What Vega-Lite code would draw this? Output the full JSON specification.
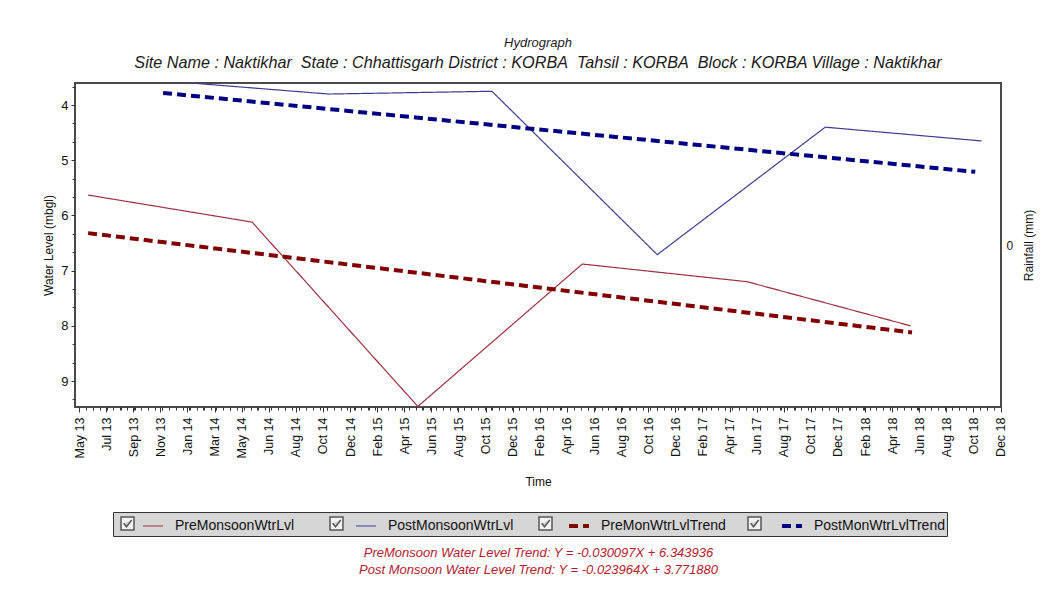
{
  "$schema": "https://vega.github.io/schema/vega-lite/v6.json",
  "width": 926,
  "height": 324,
  "autosize": {"type": "none"},
  "padding": {"left": 75, "top": 83, "right": 54, "bottom": 192},
  "background": "white",
  "config": {
    "font": "Liberation Sans",
    "view": {"stroke": "#4a4a4a", "strokeWidth": 2},
    "axis": {
      "labelFont": "Liberation Sans",
      "titleFont": "Liberation Sans",
      "labelColor": "#111111",
      "titleColor": "#111111",
      "tickColor": "#333333",
      "domain": false,
      "grid": false,
      "titleFontWeight": "normal",
      "labelFontSize": 12,
      "titleFontSize": 12
    }
  },
  "title": {
    "text": "Hydrograph",
    "subtitle": "Site Name : Naktikhar\u00a0 State : Chhattisgarh District : KORBA\u00a0 Tahsil : KORBA\u00a0 Block : KORBA Village : Naktikhar",
    "anchor": "middle",
    "font": "Liberation Sans",
    "subtitleFont": "Liberation Sans",
    "fontSize": 13,
    "fontStyle": "italic",
    "fontWeight": "normal",
    "color": "#1a1a1a",
    "subtitleFontSize": 16.2,
    "subtitleFontStyle": "italic",
    "subtitleColor": "#1a1a1a",
    "subtitlePadding": 5,
    "offset": 12
  },
  "resolve": {"scale": {"y": "independent"}, "axis": {"x": "independent"}},
  "layer": [
    {
      "data": {
        "values": [
          {"series": "PreMonsoonWtrLvl", "date": "2013/05/21", "level": 5.63},
          {"series": "PreMonsoonWtrLvl", "date": "2014/05/19", "level": 6.12},
          {"series": "PreMonsoonWtrLvl", "date": "2015/05/21", "level": 9.46},
          {"series": "PreMonsoonWtrLvl", "date": "2016/05/19", "level": 6.88},
          {"series": "PreMonsoonWtrLvl", "date": "2017/05/19", "level": 7.2},
          {"series": "PreMonsoonWtrLvl", "date": "2018/05/16", "level": 8.0},
          {"series": "PostMonsoonWtrLvl", "date": "2013/11/03", "level": 3.56},
          {"series": "PostMonsoonWtrLvl", "date": "2014/11/05", "level": 3.8},
          {"series": "PostMonsoonWtrLvl", "date": "2015/11/01", "level": 3.75},
          {"series": "PostMonsoonWtrLvl", "date": "2016/11/01", "level": 6.71},
          {"series": "PostMonsoonWtrLvl", "date": "2017/11/08", "level": 4.4},
          {"series": "PostMonsoonWtrLvl", "date": "2018/10/20", "level": 4.65},
          {"series": "PreMonWtrLvlTrend", "date": "2013/05/21", "level": 6.32},
          {"series": "PreMonWtrLvlTrend", "date": "2018/05/19", "level": 8.12},
          {"series": "PostMonWtrLvlTrend", "date": "2013/11/03", "level": 3.78},
          {"series": "PostMonWtrLvlTrend", "date": "2018/10/06", "level": 5.21}
        ]
      },
      "mark": {"type": "line", "clip": true},
      "encoding": {
        "x": {
          "field": "date",
          "type": "temporal",
          "scale": {"domain": [{"year": 2013, "month": 4, "date": 22}, {"year": 2018, "month": 12, "date": 2}]},
          "axis": {
            "orient": "bottom",
            "values": [
              {"year": 2013, "month": 5, "date": 1}, {"year": 2013, "month": 6, "date": 30}, {"year": 2013, "month": 8, "date": 29},
              {"year": 2013, "month": 10, "date": 28}, {"year": 2013, "month": 12, "date": 27}, {"year": 2014, "month": 2, "date": 25},
              {"year": 2014, "month": 4, "date": 26}, {"year": 2014, "month": 6, "date": 25}, {"year": 2014, "month": 8, "date": 24},
              {"year": 2014, "month": 10, "date": 23}, {"year": 2014, "month": 12, "date": 22}, {"year": 2015, "month": 2, "date": 20},
              {"year": 2015, "month": 4, "date": 21}, {"year": 2015, "month": 6, "date": 20}, {"year": 2015, "month": 8, "date": 19},
              {"year": 2015, "month": 10, "date": 18}, {"year": 2015, "month": 12, "date": 17}, {"year": 2016, "month": 2, "date": 15},
              {"year": 2016, "month": 4, "date": 15}, {"year": 2016, "month": 6, "date": 14}, {"year": 2016, "month": 8, "date": 13},
              {"year": 2016, "month": 10, "date": 12}, {"year": 2016, "month": 12, "date": 11}, {"year": 2017, "month": 2, "date": 9},
              {"year": 2017, "month": 4, "date": 10}, {"year": 2017, "month": 6, "date": 9}, {"year": 2017, "month": 8, "date": 8},
              {"year": 2017, "month": 10, "date": 7}, {"year": 2017, "month": 12, "date": 6}, {"year": 2018, "month": 2, "date": 4},
              {"year": 2018, "month": 4, "date": 5}, {"year": 2018, "month": 6, "date": 4}, {"year": 2018, "month": 8, "date": 3},
              {"year": 2018, "month": 10, "date": 2}, {"year": 2018, "month": 12, "date": 1}
            ],
            "labelExpr": "datum.value < datetime(2014, 5, 1) ? ['May 13','Jul 13','Sep 13','Nov 13','Jan 14','Mar 14','May 14'][round((datum.value - datetime(2013, 4, 1)) / 5184000000)] : timeFormat(datum.value, '%b %y')",
            "labelAngle": -90,
            "labelAlign": "right",
            "labelBaseline": "middle",
            "labelPadding": 5,
            "labelFontSize": 12.5,
            "labelOverlap": false,
            "labelBound": false,
            "labelFlush": false,
            "tickSize": 5,
            "title": "Time",
            "titleY": 74,
            "titleBaseline": "middle"
          }
        },
        "y": {
          "field": "level",
          "type": "quantitative",
          "scale": {"domain": [3.6, 9.47], "reverse": true, "nice": false, "zero": false},
          "axis": {
            "values": [4, 5, 6, 7, 8, 9],
            "tickSize": 4,
            "labelPadding": 3,
            "labelFontSize": 13,
            "title": "Water Level (mbgl)",
            "titleX": -27,
            "titleY": 162,
            "titleAngle": -90,
            "titleAlign": "center",
            "titleBaseline": "middle"
          }
        },
        "color": {
          "field": "series",
          "type": "nominal",
          "scale": {
            "domain": ["PreMonsoonWtrLvl", "PostMonsoonWtrLvl", "PreMonWtrLvlTrend", "PostMonWtrLvlTrend"],
            "range": ["#9b3040", "#3d3d8f", "#800000", "#000080"]
          },
          "legend": {
            "orient": "none",
            "legendX": 38,
            "legendY": 429,
            "direction": "horizontal",
            "columns": 4,
            "title": ".",
            "titleColor": "#d6d6d6",
            "titleOrient": "left",
            "titleFontSize": 12,
            "titlePadding": 22,
            "symbolType": "stroke",
            "symbolSize": 400,
            "labelFont": "Liberation Sans",
            "labelFontSize": 14,
            "labelColor": "#111111",
            "labelOffset": 10,
            "labelLimit": 250,
            "gridAlign": "all",
            "columnPadding": 42,
            "padding": 2,
            "fillColor": "#d6d6d6",
            "strokeColor": "#333333"
          }
        },
        "strokeDash": {
          "field": "series",
          "type": "nominal",
          "scale": {
            "domain": ["PreMonsoonWtrLvl", "PostMonsoonWtrLvl", "PreMonWtrLvlTrend", "PostMonWtrLvlTrend"],
            "range": [[1, 0], [1, 0], [9, 5], [9, 5]]
          }
        },
        "strokeWidth": {
          "field": "series",
          "type": "nominal",
          "scale": {
            "type": "ordinal",
            "domain": ["PreMonsoonWtrLvl", "PostMonsoonWtrLvl", "PreMonWtrLvlTrend", "PostMonWtrLvlTrend"],
            "range": [1.2, 1.2, 4, 4]
          }
        }
      }
    },
    {
      "data": {"values": []},
      "mark": {"type": "point", "filled": true, "fill": "white", "stroke": "#222222", "strokeWidth": 1.3},
      "encoding": {
        "x": {
          "field": "date",
          "type": "temporal",
          "axis": {
            "orient": "bottom",
            "labels": false,
            "ticks": true,
            "tickSize": 3,
            "tickCount": {"interval": "day", "step": 15},
            "domain": false,
            "title": ["PreMonsoon Water Level Trend: Y = -0.030097X + 6.343936", "Post Monsoon Water Level Trend: Y = -0.023964X + 3.771880"],
            "titleColor": "#b22030",
            "titleFontStyle": "italic",
            "titleFontSize": 13,
            "titleY": 139,
            "titleBaseline": "top",
            "titleLineHeight": 17
          }
        },
        "y": {
          "field": "rainfall",
          "type": "quantitative",
          "scale": {"domain": [-1, 1], "nice": false, "zero": false},
          "axis": {
            "orient": "right",
            "values": [0],
            "ticks": false,
            "labelPadding": 5,
            "title": "Rainfall (mm)",
            "titleX": 27,
            "titleY": 162,
            "titleAngle": -90,
            "titleAlign": "center",
            "titleBaseline": "middle"
          }
        },
        "shape": {
          "field": "checkbox",
          "type": "nominal",
          "scale": {
            "domain": ["on1", "on2", "on3", "on4"],
            "range": ["M-1,-1H1V1H-1Z M-0.6,-0.05L-0.15,0.5L0.65,-0.55"]
          },
          "legend": {
            "orient": "none",
            "legendX": 45,
            "legendY": 433,
            "direction": "horizontal",
            "columns": 4,
            "title": null,
            "symbolSize": 169,
            "labelExpr": "''",
            "labelOffset": 0,
            "labelFontSize": 10,
            "gridAlign": "all",
            "columnPadding": 190,
            "padding": 0,
            "encode": {
              "symbols": {
                "update": {
                  "fill": {"value": "white"},
                  "stroke": {"value": "#1a1a1a"},
                  "strokeWidth": {"value": 1.5},
                  "opacity": {"value": 1},
                  "fillOpacity": {"value": 1},
                  "strokeOpacity": {"value": 1}
                }
              }
            }
          }
        }
      }
    },
    {
      "data": {"values": []},
      "mark": {"type": "point"},
      "encoding": {
        "y": {
          "field": "level",
          "type": "quantitative",
          "scale": {"domain": [3.6, 9.47], "reverse": true, "nice": false, "zero": false},
          "axis": {
            "orient": "left",
            "values": [3.667, 4.333, 4.667, 5.333, 5.667, 6.333, 6.667, 7.333, 7.667, 8.333, 8.667, 9.333],
            "labels": false,
            "tickSize": 3,
            "title": null
          }
        }
      }
    }
  ]
}
